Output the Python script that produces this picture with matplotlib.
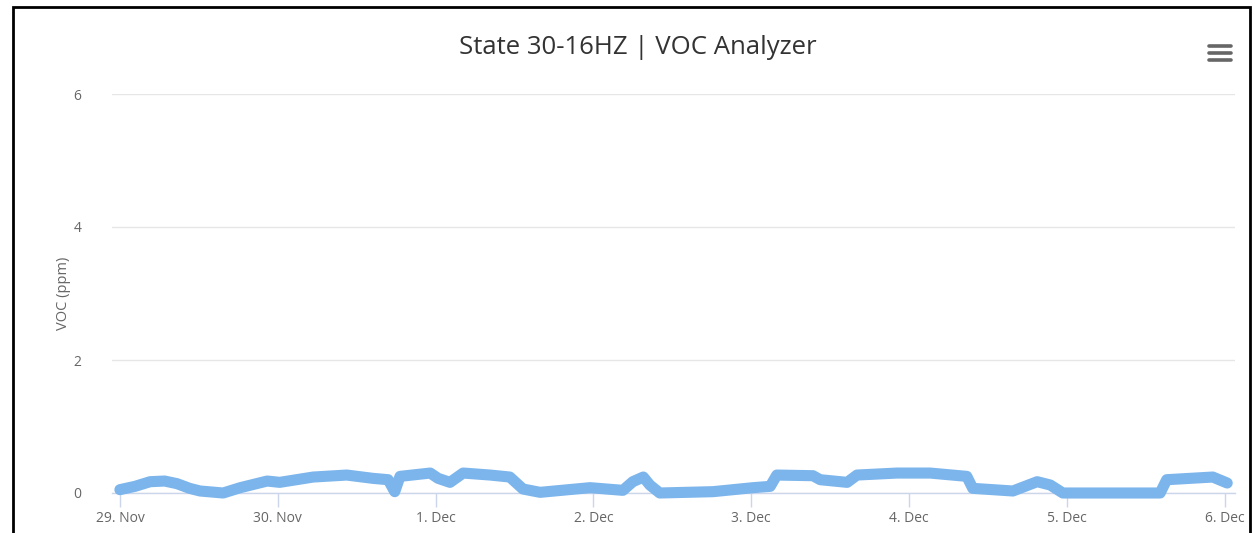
import matplotlib
matplotlib.use("Agg")
import matplotlib.pyplot as plt
from matplotlib.patches import Rectangle
from matplotlib.lines import Line2D
import pandas as pd

plt.rcParams['font.family'] = ['Open Sans', 'DejaVu Sans']

# Data: hours after 29 Nov 00:00, VOC (ppm)
hours = [0, 2.3, 4.6, 6.8, 8.7, 10.6, 12.2, 15.7, 18.3, 22.4, 24.3, 29.4, 34.5, 38.5,
         40.8, 41.8, 42.6, 47.2, 48.4, 50.2, 52.2, 56.3, 59.3, 61.3, 63.9, 71.5, 76.5,
         78.0, 79.6, 80.6, 82.1, 90.2, 96.3, 98.9, 99.9, 105.4, 106.5, 110.6, 112.1,
         118.2, 123.2, 128.8, 129.7, 135.8, 139.5, 141.5, 143.4, 158.2, 159.2, 166.2, 168.4]
voc = [0.05, 0.10, 0.17, 0.18, 0.14, 0.07, 0.03, 0.00, 0.08, 0.18, 0.16, 0.24, 0.27, 0.22,
       0.20, 0.02, 0.25, 0.30, 0.22, 0.16, 0.30, 0.27, 0.24, 0.06, 0.01, 0.08, 0.04,
       0.17, 0.24, 0.12, 0.00, 0.02, 0.08, 0.10, 0.27, 0.26, 0.20, 0.16, 0.27,
       0.30, 0.30, 0.25, 0.07, 0.03, 0.17, 0.12, 0.00, 0.00, 0.20, 0.24, 0.15]
tick_labels = ["29. Nov", "30. Nov", "1. Dec", "2. Dec", "3. Dec", "4. Dec", "5. Dec", "6. Dec"]
y_ticks = [0, 2, 4, 6]
title = "State 30-16HZ | VOC Analyzer"
ylabel = "VOC (ppm)"

start = pd.Timestamp("2023-11-29")
times = start + pd.to_timedelta(hours, unit="h")
tick_pos = [start + pd.Timedelta(days=i) for i in range(len(tick_labels))]

fig = plt.figure(figsize=(12.55, 5.33), dpi=100)
ax = fig.add_axes([112/1255, 1-493/533, (1235-112)/1255, (493-94)/533])

ax.plot(times, voc, color="#7cb5ec", lw=8, solid_capstyle="round",
        solid_joinstyle="round", clip_on=False, zorder=3)

ax.set_ylim(0, 6)
ax.set_xlim(start - pd.Timedelta(hours=1.2), start + pd.Timedelta(days=7.066))
ax.set_yticks(y_ticks)
ax.set_yticklabels([str(v) for v in y_ticks])
ax.set_xticks(tick_pos)
ax.set_xticklabels(tick_labels)

ax.grid(axis="y", color="#e6e6e6", lw=1)
ax.set_axisbelow(True)
for s in ["top", "right", "left"]:
    ax.spines[s].set_visible(False)
ax.spines["bottom"].set_color("#ccd6eb")
ax.spines["bottom"].set_linewidth(1)
ax.tick_params(axis="x", colors="#ccd6eb", length=10, width=1, labelcolor="#666666",
               labelsize=10, pad=3)
ax.tick_params(axis="y", length=0, labelcolor="#666666", labelsize=10, pad=22)

ax.set_ylabel(ylabel, color="#666666", fontsize=10.5, labelpad=2)
fig.text(638/1255, 1-47/533, title, ha="center", va="center", fontsize=18.5, color="#333333")

# outer black frame
fig.patches.append(Rectangle((13/1255, -0.05), (1250-13)/1255, 1.05-7/533,
                             transform=fig.transFigure, fill=False, ec="black", lw=2))

# menu icon
for yy in [46, 53, 60]:
    fig.lines.append(Line2D([1209/1255, 1231/1255], [1-yy/533, 1-yy/533],
                            transform=fig.transFigure, color="#666666", lw=2.6,
                            solid_capstyle="round"))

fig.savefig("out.png", dpi=100)
